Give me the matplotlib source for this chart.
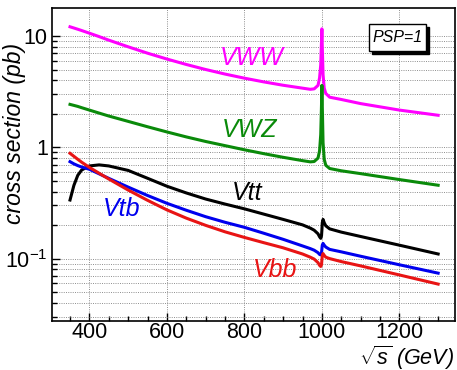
import matplotlib
matplotlib.use("Agg")
import matplotlib.pyplot as plt
from matplotlib.ticker import FixedLocator, MultipleLocator, NullFormatter
from matplotlib.patches import Rectangle

plt.rcParams['font.family'] = ['Liberation Sans', 'DejaVu Sans']
plt.rcParams['mathtext.fontset'] = 'custom'
plt.rcParams['mathtext.rm'] = 'Liberation Sans'
plt.rcParams['mathtext.it'] = 'Liberation Sans:italic'
plt.rcParams['mathtext.bf'] = 'Liberation Sans:bold'

# ---- data ----
sqrt_s = [350, 360, 370, 380, 400, 425, 450, 500, 550, 600, 650, 700, 750, 800, 850, 900, 950, 970,
          980, 990, 994, 997, 999, 1000, 1001, 1003, 1006, 1010, 1020, 1050, 1100, 1200, 1300]

vww = [12.1, 11.8, 11.5, 11.2, 10.6, 9.88, 9.18, 8.0, 7.01, 6.21, 5.55, 5.0, 4.55, 4.18, 3.87, 3.61, 3.40, 3.32,
       3.35, 3.6, 4.2, 5.5, 9.0, 11.6, 8.0, 4.5, 3.4, 3.05, 2.82, 2.69, 2.47, 2.16, 1.94]
vwz = [2.43, 2.38, 2.33, 2.27, 2.16, 2.03, 1.91, 1.71, 1.53, 1.374, 1.24, 1.128, 1.035, 0.95, 0.877, 0.813, 0.759, 0.74,
       0.745, 0.80, 0.93, 1.3, 2.4, 3.6, 2.4, 1.1, 0.78, 0.69, 0.645, 0.615, 0.58, 0.513, 0.456]
vtt = [0.336, 0.455, 0.56, 0.625, 0.68, 0.695, 0.68, 0.62, 0.527, 0.447, 0.389, 0.343, 0.309, 0.28, 0.251, 0.225, 0.201, 0.188,
       0.180, 0.167, 0.157, 0.152, 0.16, 0.18, 0.21, 0.225, 0.21, 0.197, 0.185, 0.173, 0.158, 0.132, 0.11]
vtb = [0.743, 0.71, 0.685, 0.665, 0.635, 0.578, 0.526, 0.439, 0.369, 0.314, 0.272, 0.238, 0.212, 0.191, 0.169, 0.149, 0.130, 0.123,
       0.119, 0.113, 0.109, 0.108, 0.112, 0.122, 0.132, 0.137, 0.132, 0.127, 0.121, 0.115, 0.105, 0.088, 0.074]
vbb = [0.883, 0.83, 0.78, 0.735, 0.66, 0.585, 0.519, 0.413, 0.334, 0.274, 0.231, 0.199, 0.174, 0.155, 0.139, 0.125, 0.110, 0.103,
       0.099, 0.092, 0.087, 0.085, 0.088, 0.097, 0.106, 0.111, 0.107, 0.103, 0.100, 0.094, 0.086, 0.0713, 0.059]

series_names = ['VWW', 'VWZ', 'Vtt', 'Vtb', 'Vbb']
series_values = [vww, vwz, vtt, vtb, vbb]
series_colors = ['#ff00ff', '#0a8a0a', '#000000', '#0000ee', '#e81414']
label_pos = [(737, 5.49), (742, 1.245), (767, 0.336), (435, 0.241), (822, 0.0684)]

x_ticks = [400, 600, 800, 1000, 1200]
y_ticks = [0.1, 1, 10]
y_ticklabels = [r'$\mathregular{10^{-1}}$', '1', '10']

# ---- figure ----
fig = plt.figure(figsize=(4.57, 3.70), dpi=100)
ax = fig.add_axes([52/457, 49/370, 403/457, 313/370])

for name, vals, col, pos in zip(series_names, series_values, series_colors, label_pos):
    ax.plot(sqrt_s, vals, color=col, lw=2.2, solid_joinstyle='round')
    ax.text(pos[0], pos[1], name, color=col, fontsize=18, style='italic',
            ha='left', va='baseline')

ax.set_yscale('log')
ax.set_xlim(303.5, 1343.5)
ax.set_ylim(0.0275, 17.85)

ax.xaxis.set_major_locator(FixedLocator(x_ticks))
ax.xaxis.set_minor_locator(MultipleLocator(50))
ax.set_yticks(y_ticks)
ax.set_yticklabels(y_ticklabels)
ax.yaxis.set_minor_formatter(NullFormatter())

ax.tick_params(which='both', direction='in', top=False, right=False, labelsize=15.5)
ax.tick_params(which='major', length=6, width=1)
ax.tick_params(which='minor', length=3.5, width=1)
ax.tick_params(axis='x', pad=1.0)
ax.tick_params(axis='y', pad=3)

grid_style = dict(color='#808080', lw=0.6, linestyle=(0, (1.2, 1.5)))
ax.grid(True, which='major', axis='x', **grid_style)
ax.grid(True, which='both', axis='y', **grid_style)
ax.set_axisbelow(True)
for sp in ax.spines.values():
    sp.set_linewidth(1.2)

fig.text(15/457, (370-133)/370, 'cross section (pb)', rotation=90, fontsize=16.5,
         style='italic', ha='center', va='center')
fig.text(454/457, (370-364.5)/370, r'$\sqrt{s}$ (GeV)', fontsize=15.5, style='italic',
         ha='right', va='baseline')

# PSP=1 box with shadow
bx, by, bw, bh = 369/457, (370-51)/370, 57/457, 27/370
fig.add_artist(Rectangle((bx + 3/457, by - 3/370), bw, bh, transform=fig.transFigure,
                         facecolor='black', edgecolor='black', lw=1))
fig.add_artist(Rectangle((bx, by), bw, bh, transform=fig.transFigure,
                         facecolor='white', edgecolor='black', lw=1))
fig.text(bx + bw/2, by + bh/2, 'PSP=1', fontsize=11.5, style='italic', ha='center', va='center')

fig.savefig('out.png', dpi=100)
